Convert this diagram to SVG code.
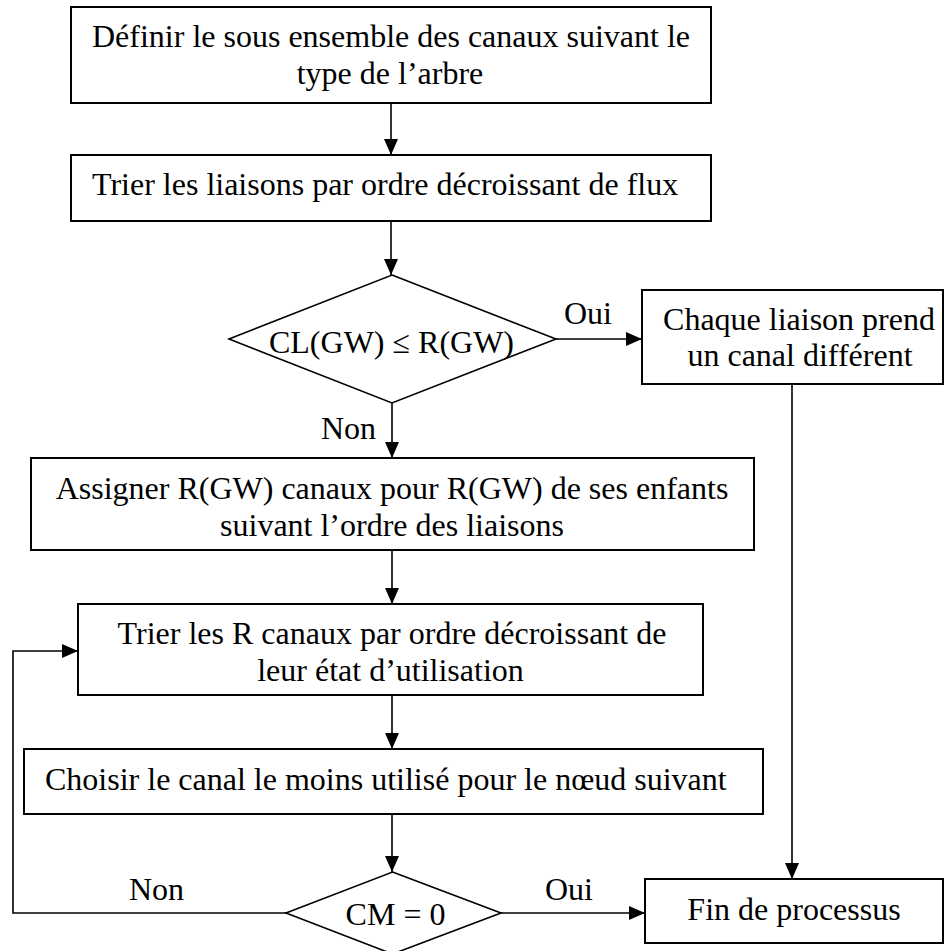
<svg xmlns="http://www.w3.org/2000/svg" width="945" height="951" viewBox="0 0 945 951">
  <style>
    .box { fill: #ffffff; stroke: #000000; stroke-width: 2; }
    .dia { fill: #ffffff; stroke: #000000; stroke-width: 1.6; }
    .lbl { font-family: "Liberation Serif", "Times New Roman", serif; font-size: 32px; fill: #000000; }
    .mid { text-anchor: middle; }
    .wire { fill: none; stroke: #000000; stroke-width: 1.6; }
  </style>
  <defs>
    <marker id="arrow" viewBox="0 0 16 14" refX="16" refY="7" markerWidth="16" markerHeight="14" markerUnits="userSpaceOnUse" orient="auto">
      <path d="M0,0 L16,7 L0,14 Z" fill="#000000"/>
    </marker>
  </defs>
  <rect width="945" height="951" fill="#ffffff"/>

  <!-- connectors -->
  <g id="connectors">
    <path class="wire" d="M391,103 L391,155" marker-end="url(#arrow)"/>
    <path class="wire" d="M391,221 L391,275" marker-end="url(#arrow)"/>
    <path class="wire" d="M556,339 L642,339" marker-end="url(#arrow)"/>
    <path class="wire" d="M392,403 L392,458" marker-end="url(#arrow)"/>
    <path class="wire" d="M392,550 L392,604" marker-end="url(#arrow)"/>
    <path class="wire" d="M392,695 L392,749" marker-end="url(#arrow)"/>
    <path class="wire" d="M392,814 L392,872" marker-end="url(#arrow)"/>
    <path class="wire" d="M501,913 L645,913" marker-end="url(#arrow)"/>
    <path class="wire" d="M792,384 L792,879" marker-end="url(#arrow)"/>
    <path class="wire" d="M286,913 L13,913 L13,651 L78,651" marker-end="url(#arrow)"/>
    <text class="lbl" x="564" y="324">Oui</text>
    <text class="lbl" x="321" y="439">Non</text>
    <text class="lbl" x="129" y="900">Non</text>
    <text class="lbl" x="545" y="900">Oui</text>
  </g>

  <g id="define-subset">
    <rect class="box" x="71" y="7" width="640" height="96"/>
    <text class="lbl mid" x="391" y="46.5">Définir le sous ensemble des canaux suivant le</text>
    <text class="lbl mid" x="390" y="83.5">type de l’arbre</text>
  </g>

  <g id="sort-links">
    <rect class="box" x="71" y="155" width="640" height="66"/>
    <text class="lbl" x="92" y="195">Trier les liaisons par ordre décroissant de flux</text>
  </g>

  <g id="test-cl">
    <polygon class="dia" points="392,275 556,339 392,403 229,339"/>
    <text class="lbl mid" x="391.5" y="352.5">CL(GW) ≤ R(GW)</text>
  </g>

  <g id="distinct-channels">
    <rect class="box" x="642" y="290" width="301" height="94"/>
    <text class="lbl mid" x="799" y="330">Chaque liaison prend</text>
    <text class="lbl mid" x="800" y="366">un canal différent</text>
  </g>

  <g id="assign-channels">
    <rect class="box" x="31" y="458" width="723" height="92"/>
    <text class="lbl mid" x="392" y="499">Assigner R(GW) canaux pour R(GW) de ses enfants</text>
    <text class="lbl mid" x="392" y="535.5">suivant l’ordre des liaisons</text>
  </g>

  <g id="sort-channels">
    <rect class="box" x="78" y="604" width="625" height="91"/>
    <text class="lbl mid" x="392" y="643.5">Trier les R canaux par ordre décroissant de</text>
    <text class="lbl mid" x="390.5" y="680.5">leur état d’utilisation</text>
  </g>

  <g id="choose-channel">
    <rect class="box" x="24" y="749" width="739" height="65"/>
    <text class="lbl" x="45" y="790">Choisir le canal le moins utilisé pour le nœud suivant</text>
  </g>

  <g id="test-cm">
    <polygon class="dia" points="392.5,872 501,913 392.5,954 286,913"/>
    <text class="lbl mid" x="395.5" y="925">CM = 0</text>
  </g>

  <g id="end">
    <rect class="box" x="645" y="879" width="298" height="64"/>
    <text class="lbl mid" x="794" y="920">Fin de processus</text>
  </g>
</svg>
